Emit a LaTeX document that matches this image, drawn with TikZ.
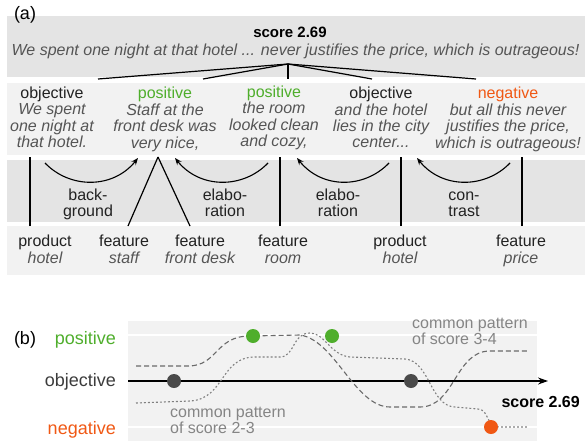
\documentclass[tikz,border=0pt]{standalone}
\usepackage{fontspec}
\setmainfont{Liberation Sans}
\usepackage{array}
\usetikzlibrary{arrows.meta}
\definecolor{bandA}{HTML}{E4E4E4}
\definecolor{bandB}{HTML}{F2F2F2}
\definecolor{posgreen}{HTML}{4FAE2C}
\definecolor{negorange}{HTML}{F05814}
\definecolor{txtgray}{HTML}{555555}
\definecolor{lblgray}{HTML}{222222}
\definecolor{objgray}{HTML}{3C3C3C}
\definecolor{patgray}{HTML}{858585}
\definecolor{curvegray}{HTML}{6A6A6A}
\definecolor{dotgray}{HTML}{4A4A4A}
\newcolumntype{I}{>{\itshape\color{txtgray}}c}
\newcommand\edutxt[3]{\begin{tabular}[t]{@{}I@{}}\textup{\color{#1}#2}\\#3\end{tabular}}
\newcommand\feattxt[2]{\begin{tabular}[t]{@{}c@{}}#1\\\itshape\color{txtgray}#2\end{tabular}}
\newcommand\twoline[2]{\begin{tabular}[t]{@{}c@{}}#1\\#2\end{tabular}}
\newcommand\twolinel[2]{\begin{tabular}[t]{@{}l@{}}#1\\#2\end{tabular}}
\begin{document}
\begin{tikzpicture}[x=1pt,y=-1pt,
  basetxt/.style={anchor=base, inner sep=0pt, font=\fontsize{16}{16}\selectfont, text=lblgray},
  edu/.style={basetxt},
  feat/.style={basetxt, font=\fontsize{16}{16.5}\selectfont},
  rellabel/.style={basetxt},
  biglabel/.style={anchor=base, inner sep=0pt, font=\fontsize{18}{20}\selectfont},
  treeline/.style={line width=1.2pt, black},
  linkline/.style={line width=1.2pt, black},
  relarrow/.style={line width=1.1pt, black, -{Stealth[length=7pt,width=5.5pt]}},
  pattern34/.style={line width=1.1pt, curvegray, dash pattern=on 5pt off 3pt},
  pattern23/.style={line width=1.1pt, curvegray!85, dash pattern=on 1.8pt off 2.2pt},
  dot/.style={circle, inner sep=0pt, minimum size=14pt, draw=none},
  pattxt/.style={anchor=base west, inner sep=0pt, font=\fontsize{16}{16}\selectfont, text=patgray}
]
\useasboundingbox (0,0) rectangle (585,441);
% ---------- (a) bands
\fill[bandA] (7,16) rectangle (585,77);
\fill[bandB] (7,83) rectangle (585,155);
\fill[bandA] (7,160) rectangle (585,222);
\fill[bandB] (7,226) rectangle (585,275);

\node[biglabel] (alabel) at (25,20) {(a)};
\node[basetxt, font=\fontsize{15}{16}\selectfont\bfseries, text=black] (score) at (290,38) {score 2.69};
\node[basetxt, font=\fontsize{16}{16}\selectfont\itshape, text=txtgray] (review) at (295.5,55.5)
  {We spent one night at that hotel ... never justifies the price, which is outrageous!};

% EDUs
\node[edu] (e1) at (52,99) {\edutxt{lblgray}{objective}{We spent\\one night at\\that hotel.}};
\node[edu] (e2) at (165,99) {\edutxt{posgreen}{positive}{Staff at the\\front desk was\\very nice,}};
\node[edu] (e3) at (274,97.5) {\edutxt{posgreen}{positive}{the room\\looked clean\\and cozy,}};
\node[edu] (e4) at (381,99) {\edutxt{lblgray}{objective}{and the hotel\\lies in the city\\center...}};
\node[edu] (e5) at (508,99) {\edutxt{negorange}{negative}{but all this never\\justifies the price,\\which is outrageous!}};

% tree
\coordinate (root) at (288,64);
\coordinate (t1) at (98,79);
\coordinate (t2) at (203,79);
\coordinate (t3) at (288,79);
\coordinate (t4) at (372,79);
\coordinate (t5) at (476,79);
\foreach \t in {t1,t2,t3,t4,t5} \draw[treeline] (root) -- (\t);

% relation arrows
\coordinate (r1s) at (45,163);  \coordinate (r1e) at (138,158);
\coordinate (r2s) at (268,163); \coordinate (r2e) at (175,158);
\coordinate (r3s) at (389,163); \coordinate (r3e) at (297,158);
\coordinate (r4s) at (510,163); \coordinate (r4e) at (417,158);
\draw[relarrow] (r1s) .. controls (70,189) and (113,189) .. (r1e);
\draw[relarrow] (r2s) .. controls (243,189) and (200,189) .. (r2e);
\draw[relarrow] (r3s) .. controls (364,189) and (322,189) .. (r3e);
\draw[relarrow] (r4s) .. controls (485,189) and (442,189) .. (r4e);
\node[rellabel] (rl1) at (88,200) {\twoline{back-}{ground}};
\node[rellabel] (rl2) at (225,200) {\twoline{elabo-}{ration}};
\node[rellabel] (rl3) at (338,200) {\twoline{elabo-}{ration}};
\node[rellabel] (rl4) at (464,200) {\twoline{con-}{trast}};

% features
\node[feat] (f1) at (45,246.5) {\feattxt{product}{hotel}};
\node[feat] (f2) at (124,246.5) {\feattxt{feature}{staff}};
\node[feat] (f3) at (200,246.5) {\feattxt{feature}{front desk}};
\node[feat] (f4) at (283,246.5) {\feattxt{feature}{room}};
\node[feat] (f5) at (400,246.5) {\feattxt{product}{hotel}};
\node[feat] (f6) at (521,246.5) {\feattxt{feature}{price}};

\coordinate (l1b) at (30,226);  \coordinate (l1t) at (30,157);
\coordinate (l2b) at (128,226); \coordinate (apex) at (158,157);
\coordinate (l3b) at (190,226);
\coordinate (l4b) at (280,226); \coordinate (l4t) at (280,157);
\coordinate (l5b) at (401,226); \coordinate (l5t) at (401,157);
\coordinate (l6b) at (522,226); \coordinate (l6t) at (522,157);
\draw[linkline] (l1b) -- (l1t);
\draw[linkline] (l2b) -- (apex);
\draw[linkline] (l3b) -- (apex);
\draw[linkline] (l4b) -- (l4t);
\draw[linkline] (l5b) -- (l5t);
\draw[linkline] (l6b) -- (l6t);

% ---------- (b)
\node[biglabel] (blabel) at (25,344) {(b)};
\node[biglabel, anchor=base east, text=posgreen] (lpos) at (116,344) {positive};
\node[biglabel, anchor=base east, text=objgray] (lobj) at (116,386) {objective};
\node[biglabel, anchor=base east, text=negorange] (lneg) at (116,434) {negative};

\fill[bandB] (128,321) rectangle (537,441);
\draw[white, line width=2pt] (128,335) -- (537,335);
\draw[white, line width=2pt] (128,427) -- (537,427);

\coordinate (ax0) at (128,381);
\coordinate (ax1) at (548,381);
\draw[line width=1.3pt, black, -{Stealth[length=10pt,width=7pt]}] (ax0) -- (ax1);

% patterns
\draw[pattern34] (136,366) -- (188,366) .. controls (218,366) and (215,336) .. (250,336)
  -- (300,335) .. controls (335,340) and (355,407) .. (390,407)
  -- (420,407) .. controls (455,407) and (455,351) .. (490,351) -- (528,351);
\draw[pattern23] (136,403) -- (190,401) .. controls (225,399) and (220,357) .. (255,357)
  -- (280,357) .. controls (295,357) and (292,333) .. (310,333)
  .. controls (325,333) and (330,355) .. (350,357)
  -- (405,359) .. controls (430,361) and (430,406) .. (455,407)
  -- (478,409) .. controls (490,410) and (485,427) .. (500,427) -- (528,427);

\node[dot, fill=dotgray] (d1) at (174,381) {};
\node[dot, fill=posgreen] (d2) at (253,336) {};
\node[dot, fill=posgreen] (d3) at (332,336) {};
\node[dot, fill=dotgray] (d4) at (411,381) {};
\node[dot, fill=negorange] (d5) at (491,427) {};

\node[anchor=base east, inner sep=0pt, font=\fontsize{16}{18}\selectfont\bfseries] (bscore) at (580,407) {score 2.69};
\node[pattxt] (p34) at (412,328) {\twolinel{common pattern}{of score 3-4}};
\node[pattxt] (p23) at (170,417.5) {\twolinel{common pattern}{of score 2-3}};
\end{tikzpicture}
\end{document}
